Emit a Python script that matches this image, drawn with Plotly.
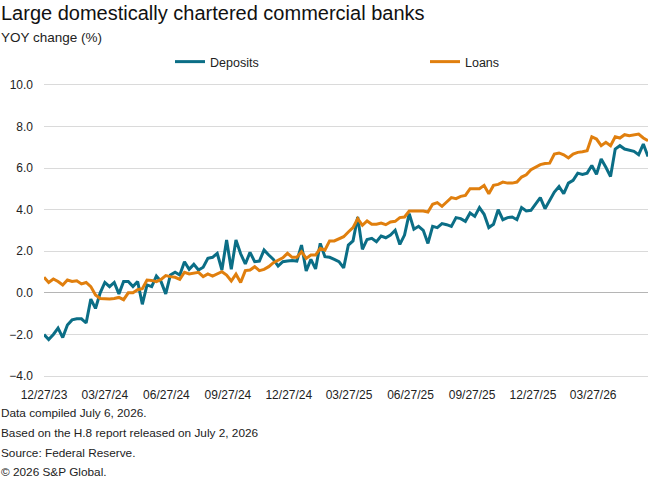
import pandas as pd
import plotly.graph_objects as go

start_date = "2023-12-27"
deposits = [
    -2.0, -2.25, -2.0, -1.7, -2.15, -1.55, -1.3, -1.25, -1.25, -1.45,
    -0.3, -0.75, 0.0, 0.5, 0.3, 0.5, -0.05, 0.55, 0.55, 0.3,
    0.55, -0.55, 0.38, 0.3, 0.81, 0.54, -0.05, 0.86, 0.99, 0.86,
    1.5, 1.13, 1.37, 1.1, 1.23, 1.66, 1.71, 1.9, 1.1, 2.54,
    1.13, 2.54, 1.88, 1.39, 1.95, 1.5, 1.53, 2.06, 1.82, 1.61,
    1.29, 1.5, 1.53, 1.56, 1.53, 2.3, 1.05, 1.61, 1.15, 2.38,
    1.74, 1.71, 1.61, 1.5, 1.2, 2.3, 2.5, 3.65, 2.09, 2.57,
    2.62, 2.46, 2.73, 2.65, 2.78, 3.01, 2.33, 2.78, 3.81, 3.06,
    3.2, 3.01, 2.38, 3.2, 3.14, 3.33, 3.28, 3.2, 3.62, 3.57,
    3.44, 3.84, 3.68, 4.1, 3.78, 3.14, 3.3, 4.0, 3.52, 3.62,
    3.65, 3.52, 4.1, 3.94, 3.97, 4.29, 4.58, 4.05, 4.48, 4.85,
    5.12, 4.77, 5.28, 5.41, 5.76, 5.7, 5.76, 6.13, 5.7, 6.44,
    6.04, 5.6, 6.92, 7.08, 6.92, 6.87, 6.81, 6.65, 7.16, 6.56,
]
loans = [
    0.75, 0.5, 0.67, 0.55, 0.38, 0.62, 0.55, 0.58, 0.43, 0.5,
    0.3, -0.1, -0.27, -0.28, -0.3, -0.27, -0.22, -0.33, 0.0, 0.0,
    0.15, 0.2, 0.62, 0.6, 0.54, 0.65, 0.83, 0.78, 0.75, 0.65,
    0.99, 0.91, 0.94, 0.99, 0.78, 0.91, 0.81, 0.91, 1.02, 0.86,
    0.57, 0.9, 0.5, 1.07, 1.1, 1.26, 1.07, 1.13, 1.26, 1.45,
    1.58, 1.69, 1.9, 1.71, 1.71, 1.98, 1.66, 1.82, 1.82, 2.14,
    2.06, 2.5, 2.5, 2.62, 2.7, 2.93, 3.14, 3.57, 3.25, 3.46,
    3.3, 3.3, 3.36, 3.28, 3.41, 3.44, 3.62, 3.65, 3.94, 3.94,
    3.94, 3.94, 3.89, 4.26, 4.34, 4.16, 4.37, 4.58, 4.53, 4.64,
    4.69, 5.01, 5.01, 5.01, 5.17, 4.77, 5.17, 5.22, 5.33, 5.28,
    5.28, 5.33, 5.57, 5.68, 5.92, 6.04, 6.17, 6.22, 6.24, 6.68,
    6.73, 6.64, 6.49, 6.68, 6.76, 6.79, 6.84, 7.51, 7.4, 7.08,
    7.24, 7.08, 7.51, 7.45, 7.61, 7.56, 7.59, 7.64, 7.45, 7.32,
]
tick_dates = ["2023-12-27", "2024-03-27", "2024-06-27", "2024-09-27", "2024-12-27",
              "2025-03-27", "2025-06-27", "2025-09-27", "2025-12-27", "2026-03-27"]
tick_labels = ["12/27/23", "03/27/24", "06/27/24", "09/27/24", "12/27/24",
               "03/27/25", "06/27/25", "09/27/25", "12/27/25", "03/27/26"]
y_ticks = [-4, -2, 0, 2, 4, 6, 8, 10]
footnotes = ["Data compiled July 6, 2026.",
             "Based on the H.8 report released on July 2, 2026",
             "Source: Federal Reserve.",
             "\u00a9 2026 S&P Global."]

dates = pd.date_range(start_date, periods=len(deposits), freq="7D")

FONT = "Liberation Sans, Arial, sans-serif"
DEP_C = "#0B6E86"
LOAN_C = "#E07F0E"
GRID_C = "#DADADA"

fig = go.Figure()
fig.add_trace(go.Scatter(x=dates, y=deposits, name="Deposits", mode="lines",
                         line=dict(color=DEP_C, width=3)))
fig.add_trace(go.Scatter(x=dates, y=loans, name="Loans", mode="lines",
                         line=dict(color=LOAN_C, width=3)))

L, R, T, B = 44, 14, 85, 104
W, H = 662, 480
ph = H - T - B

def py(p):
    return (H - B - p) / ph

def px(p):
    return (p - L) / (W - L - R)

ann = [
    dict(text="Large domestically chartered commercial banks", x=px(-1), y=py(13),
         font=dict(size=20, color="#111111", family=FONT)),
    dict(text="YOY change (%)", x=px(-1), y=py(38),
         font=dict(size=13.5, color="#222222", family=FONT)),
]
for i, t in enumerate(footnotes):
    ann.append(dict(text=t, x=px(-1), y=py(413 + i * 19.8),
                    font=dict(size=11.8, color="#222222", family=FONT)))
for a in ann:
    a.update(xref="paper", yref="paper", xanchor="left", yanchor="middle",
             showarrow=False, align="left")

fig.update_layout(
    width=W, height=H,
    margin=dict(l=L, r=R, t=T, b=B, autoexpand=False),
    paper_bgcolor="white", plot_bgcolor="white",
    font=dict(family=FONT, size=12, color="#222222"),
    annotations=ann,
    legend=dict(orientation="h", xref="container", yref="container",
                x=170 / W, y=1 - 62 / H, xanchor="left", yanchor="middle",
                entrywidth=210, entrywidthmode="pixels", itemwidth=30,
                font=dict(size=12.5, family=FONT, color="#222222")),
    xaxis=dict(type="date", range=[dates[0], dates[-1]],
               tickvals=tick_dates, ticktext=tick_labels,
               showgrid=False, zeroline=False, ticks="",
               showline=True, linecolor=GRID_C, linewidth=1, mirror=True,
               ticklabelstandoff=8,
               tickfont=dict(size=12, color="#222222")),
    yaxis=dict(range=[y_ticks[0], y_ticks[-1]], tickvals=y_ticks,
               tickformat=".1f",
               showgrid=True, gridcolor=GRID_C, gridwidth=1,
               zeroline=True, zerolinecolor="#B5B5B5", zerolinewidth=1,
               showline=False, ticks="", ticklabelstandoff=10,
               tickfont=dict(size=12, color="#222222")),
)

fig.write_html("out.html")
